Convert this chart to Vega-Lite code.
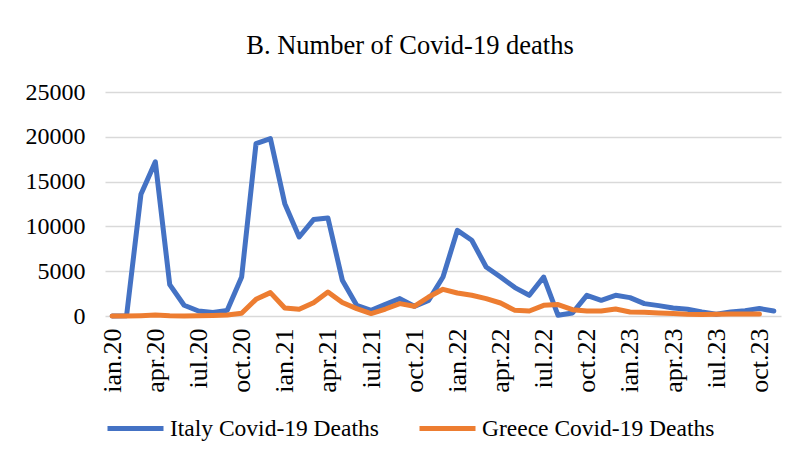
{
  "$schema": "https://vega.github.io/schema/vega-lite/v6.json",
  "width": 676,
  "height": 224,
  "padding": {"left": 25, "right": 20, "top": 32, "bottom": 10},
  "background": "white",
  "title": {
    "text": "B. Number of Covid-19 deaths",
    "font": "Liberation Serif",
    "fontSize": 26.5,
    "fontWeight": "normal",
    "color": "#000000",
    "anchor": "middle",
    "frame": "bounds",
    "dx": 7,
    "offset": 21
  },
  "config": {
    "view": {"stroke": null},
    "font": "Liberation Serif"
  },
  "data": {
    "values": [
      {"m": "ian.20", "s": "Italy Covid-19 Deaths", "v": 0},
      {"m": "feb.20", "s": "Italy Covid-19 Deaths", "v": 30},
      {"m": "mar.20", "s": "Italy Covid-19 Deaths", "v": 13600},
      {"m": "apr.20", "s": "Italy Covid-19 Deaths", "v": 17200},
      {"m": "mai.20", "s": "Italy Covid-19 Deaths", "v": 3500},
      {"m": "iun.20", "s": "Italy Covid-19 Deaths", "v": 1200},
      {"m": "iul.20", "s": "Italy Covid-19 Deaths", "v": 560},
      {"m": "aug.20", "s": "Italy Covid-19 Deaths", "v": 380},
      {"m": "sep.20", "s": "Italy Covid-19 Deaths", "v": 630},
      {"m": "oct.20", "s": "Italy Covid-19 Deaths", "v": 4350},
      {"m": "noi.20", "s": "Italy Covid-19 Deaths", "v": 19240},
      {"m": "dec.20", "s": "Italy Covid-19 Deaths", "v": 19800},
      {"m": "ian.21", "s": "Italy Covid-19 Deaths", "v": 12540},
      {"m": "feb.21", "s": "Italy Covid-19 Deaths", "v": 8820},
      {"m": "mar.21", "s": "Italy Covid-19 Deaths", "v": 10760},
      {"m": "apr.21", "s": "Italy Covid-19 Deaths", "v": 10940},
      {"m": "mai.21", "s": "Italy Covid-19 Deaths", "v": 4000},
      {"m": "iun.21", "s": "Italy Covid-19 Deaths", "v": 1190},
      {"m": "iul.21", "s": "Italy Covid-19 Deaths", "v": 630},
      {"m": "aug.21", "s": "Italy Covid-19 Deaths", "v": 1300},
      {"m": "sep.21", "s": "Italy Covid-19 Deaths", "v": 1940},
      {"m": "oct.21", "s": "Italy Covid-19 Deaths", "v": 1080},
      {"m": "noi.21", "s": "Italy Covid-19 Deaths", "v": 1750},
      {"m": "dec.21", "s": "Italy Covid-19 Deaths", "v": 4350},
      {"m": "ian.22", "s": "Italy Covid-19 Deaths", "v": 9560},
      {"m": "feb.22", "s": "Italy Covid-19 Deaths", "v": 8450},
      {"m": "mar.22", "s": "Italy Covid-19 Deaths", "v": 5470},
      {"m": "apr.22", "s": "Italy Covid-19 Deaths", "v": 4350},
      {"m": "mai.22", "s": "Italy Covid-19 Deaths", "v": 3170},
      {"m": "iun.22", "s": "Italy Covid-19 Deaths", "v": 2310},
      {"m": "iul.22", "s": "Italy Covid-19 Deaths", "v": 4350},
      {"m": "aug.22", "s": "Italy Covid-19 Deaths", "v": 80},
      {"m": "sep.22", "s": "Italy Covid-19 Deaths", "v": 330},
      {"m": "oct.22", "s": "Italy Covid-19 Deaths", "v": 2310},
      {"m": "noi.22", "s": "Italy Covid-19 Deaths", "v": 1750},
      {"m": "dec.22", "s": "Italy Covid-19 Deaths", "v": 2310},
      {"m": "ian.23", "s": "Italy Covid-19 Deaths", "v": 2050},
      {"m": "feb.23", "s": "Italy Covid-19 Deaths", "v": 1380},
      {"m": "mar.23", "s": "Italy Covid-19 Deaths", "v": 1160},
      {"m": "apr.23", "s": "Italy Covid-19 Deaths", "v": 900},
      {"m": "mai.23", "s": "Italy Covid-19 Deaths", "v": 750},
      {"m": "iun.23", "s": "Italy Covid-19 Deaths", "v": 450},
      {"m": "iul.23", "s": "Italy Covid-19 Deaths", "v": 190},
      {"m": "aug.23", "s": "Italy Covid-19 Deaths", "v": 450},
      {"m": "sep.23", "s": "Italy Covid-19 Deaths", "v": 600},
      {"m": "oct.23", "s": "Italy Covid-19 Deaths", "v": 830},
      {"m": "noi.23", "s": "Italy Covid-19 Deaths", "v": 560},
      {"m": "ian.20", "s": "Greece Covid-19 Deaths", "v": 0},
      {"m": "feb.20", "s": "Greece Covid-19 Deaths", "v": 0},
      {"m": "mar.20", "s": "Greece Covid-19 Deaths", "v": 40},
      {"m": "apr.20", "s": "Greece Covid-19 Deaths", "v": 100},
      {"m": "mai.20", "s": "Greece Covid-19 Deaths", "v": 30},
      {"m": "iun.20", "s": "Greece Covid-19 Deaths", "v": 10},
      {"m": "iul.20", "s": "Greece Covid-19 Deaths", "v": 20},
      {"m": "aug.20", "s": "Greece Covid-19 Deaths", "v": 60},
      {"m": "sep.20", "s": "Greece Covid-19 Deaths", "v": 120},
      {"m": "oct.20", "s": "Greece Covid-19 Deaths", "v": 300},
      {"m": "noi.20", "s": "Greece Covid-19 Deaths", "v": 1860},
      {"m": "dec.20", "s": "Greece Covid-19 Deaths", "v": 2610},
      {"m": "ian.21", "s": "Greece Covid-19 Deaths", "v": 900},
      {"m": "feb.21", "s": "Greece Covid-19 Deaths", "v": 750},
      {"m": "mar.21", "s": "Greece Covid-19 Deaths", "v": 1490},
      {"m": "apr.21", "s": "Greece Covid-19 Deaths", "v": 2680},
      {"m": "mai.21", "s": "Greece Covid-19 Deaths", "v": 1500},
      {"m": "iun.21", "s": "Greece Covid-19 Deaths", "v": 820},
      {"m": "iul.21", "s": "Greece Covid-19 Deaths", "v": 270},
      {"m": "aug.21", "s": "Greece Covid-19 Deaths", "v": 780},
      {"m": "sep.21", "s": "Greece Covid-19 Deaths", "v": 1380},
      {"m": "oct.21", "s": "Greece Covid-19 Deaths", "v": 1080},
      {"m": "noi.21", "s": "Greece Covid-19 Deaths", "v": 2120},
      {"m": "dec.21", "s": "Greece Covid-19 Deaths", "v": 2980},
      {"m": "ian.22", "s": "Greece Covid-19 Deaths", "v": 2570},
      {"m": "feb.22", "s": "Greece Covid-19 Deaths", "v": 2310},
      {"m": "mar.22", "s": "Greece Covid-19 Deaths", "v": 1940},
      {"m": "apr.22", "s": "Greece Covid-19 Deaths", "v": 1450},
      {"m": "mai.22", "s": "Greece Covid-19 Deaths", "v": 630},
      {"m": "iun.22", "s": "Greece Covid-19 Deaths", "v": 560},
      {"m": "iul.22", "s": "Greece Covid-19 Deaths", "v": 1190},
      {"m": "aug.22", "s": "Greece Covid-19 Deaths", "v": 1270},
      {"m": "sep.22", "s": "Greece Covid-19 Deaths", "v": 700},
      {"m": "oct.22", "s": "Greece Covid-19 Deaths", "v": 560},
      {"m": "noi.22", "s": "Greece Covid-19 Deaths", "v": 560},
      {"m": "dec.22", "s": "Greece Covid-19 Deaths", "v": 780},
      {"m": "ian.23", "s": "Greece Covid-19 Deaths", "v": 450},
      {"m": "feb.23", "s": "Greece Covid-19 Deaths", "v": 410},
      {"m": "mar.23", "s": "Greece Covid-19 Deaths", "v": 330},
      {"m": "apr.23", "s": "Greece Covid-19 Deaths", "v": 270},
      {"m": "mai.23", "s": "Greece Covid-19 Deaths", "v": 190},
      {"m": "iun.23", "s": "Greece Covid-19 Deaths", "v": 160},
      {"m": "iul.23", "s": "Greece Covid-19 Deaths", "v": 190},
      {"m": "aug.23", "s": "Greece Covid-19 Deaths", "v": 220},
      {"m": "sep.23", "s": "Greece Covid-19 Deaths", "v": 220},
      {"m": "oct.23", "s": "Greece Covid-19 Deaths", "v": 220}
    ]
  },
  "mark": {"type": "line", "strokeWidth": 5, "strokeJoin": "round", "strokeCap": "round"},
  "encoding": {
    "x": {
      "field": "m",
      "type": "nominal",
      "scale": {
        "type": "point",
        "padding": 0.5,
        "domain": ["ian.20","feb.20","mar.20","apr.20","mai.20","iun.20","iul.20","aug.20","sep.20","oct.20","noi.20","dec.20",
                   "ian.21","feb.21","mar.21","apr.21","mai.21","iun.21","iul.21","aug.21","sep.21","oct.21","noi.21","dec.21",
                   "ian.22","feb.22","mar.22","apr.22","mai.22","iun.22","iul.22","aug.22","sep.22","oct.22","noi.22","dec.22",
                   "ian.23","feb.23","mar.23","apr.23","mai.23","iun.23","iul.23","aug.23","sep.23","oct.23","noi.23"]
      },
      "axis": {
        "title": null,
        "values": ["ian.20","apr.20","iul.20","oct.20","ian.21","apr.21","iul.21","oct.21","ian.22","apr.22","iul.22","oct.22","ian.23","apr.23","iul.23","oct.23"],
        "labelAngle": -90,
        "labelFont": "Liberation Serif",
        "labelFontSize": 26,
        "labelColor": "#000000",
        "labelPadding": 12,
        "labelLimit": 0,
        "ticks": false,
        "domain": false,
        "grid": false
      }
    },
    "y": {
      "field": "v",
      "type": "quantitative",
      "scale": {"domain": [0, 25000], "nice": false},
      "axis": {
        "title": null,
        "values": [0, 5000, 10000, 15000, 20000, 25000],
        "format": "d",
        "labelFont": "Liberation Serif",
        "labelFontSize": 24,
        "labelColor": "#000000",
        "labelPadding": 20,
        "ticks": false,
        "domain": false,
        "grid": true,
        "gridColor": "#D9D9D9",
        "gridWidth": 1.5
      }
    },
    "color": {
      "field": "s",
      "type": "nominal",
      "scale": {
        "domain": ["Italy Covid-19 Deaths", "Greece Covid-19 Deaths"],
        "range": ["#4472C4", "#ED7D31"]
      },
      "legend": {
        "title": null,
        "orient": "bottom",
        "direction": "horizontal",
        "symbolType": "stroke",
        "symbolSize": 3136,
        "symbolStrokeWidth": 5,
        "labelFont": "Liberation Serif",
        "labelFontSize": 23.5,
        "labelColor": "#000000",
        "labelLimit": 0,
        "labelOffset": 4,
        "columnPadding": 30,
        "offset": 5
      }
    }
  }
}
